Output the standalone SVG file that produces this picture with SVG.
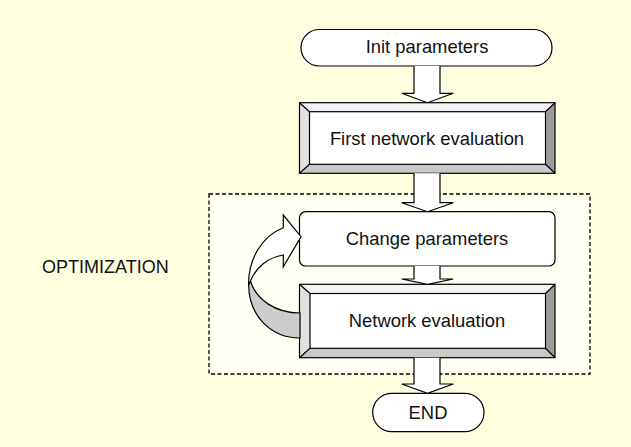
<svg xmlns="http://www.w3.org/2000/svg" width="631" height="447" viewBox="0 0 631 447">
  <style>
    .bg { fill: #ffffe0; }
    .frame { fill: #fffff4; stroke: #000; stroke-width: 1.3; stroke-dasharray: 4 2.5; }
    .pill, .plain { fill: #fff; stroke: #000; stroke-width: 1.2; }
    .face { fill: #fff; stroke: #000; stroke-width: 1.2; }
    .bev-t { fill: #f4f4f4; }
    .bev-l { fill: #e2e2e2; }
    .bev-r { fill: #9c9c9c; }
    .bev-b { fill: #c8c8c8; }
    .edge { fill: none; stroke: #000; stroke-width: 1.2; }
    .lbl { font-family: "Liberation Sans", Arial, sans-serif; font-size: 18.4px; fill: #111; text-anchor: middle; }
    .side { font-family: "Liberation Sans", Arial, sans-serif; font-size: 18px; fill: #111; }
    .blk { fill: #fff; stroke: #000; stroke-width: 1.2; stroke-linejoin: miter; }
    .band { fill: #cccccc; stroke: #000; stroke-width: 1.2; }
  </style>

  <rect class="bg" x="0" y="0" width="631" height="447"/>

  <!-- optimization loop region -->
  <g id="optimization">
    <rect class="frame" x="209" y="194" width="381" height="180"/>
    <text class="side" x="42" y="272.5">OPTIMIZATION</text>
  </g>

  <g id="init">
    <rect class="pill" x="301" y="29.5" width="251" height="36.5" rx="18.25"/>
    <text class="lbl" x="427" y="53.3">Init parameters</text>
  </g>

  <g id="first-eval">
    <polygon class="bev-t" points="299.5,102.7 555,102.7 545.5,111.7 309.5,111.7"/>
    <polygon class="bev-l" points="299.5,102.7 309.5,111.7 309.5,164.3 299.5,173.3"/>
    <polygon class="bev-r" points="555,102.7 555,173.3 545.5,164.3 545.5,111.7"/>
    <polygon class="bev-b" points="299.5,173.3 309.5,164.3 545.5,164.3 555,173.3"/>
    <rect class="face" x="309.5" y="111.7" width="236" height="52.6"/>
    <rect class="edge" x="299.5" y="102.7" width="255.5" height="70.6"/>
    <path class="edge" d="M299.5,102.7 L309.5,111.7 M555,102.7 L545.5,111.7 M299.5,173.3 L309.5,164.3 M555,173.3 L545.5,164.3"/>
    <text class="lbl" x="427" y="145">First network evaluation</text>
  </g>

  <g id="change">
    <rect class="plain" x="299.5" y="211.7" width="255.5" height="54.3" rx="6"/>
    <text class="lbl" x="427" y="245">Change parameters</text>
  </g>

  <g id="net-eval">
    <polygon class="bev-t" points="299.5,284.3 555,284.3 545.5,293.5 310,293.5"/>
    <polygon class="bev-l" points="299.5,284.3 310,293.5 310,348.3 299.5,357.7"/>
    <polygon class="bev-r" points="555,284.3 555,357.7 545.5,348.3 545.5,293.5"/>
    <polygon class="bev-b" points="299.5,357.7 310,348.3 545.5,348.3 555,357.7"/>
    <rect class="face" x="310" y="293.5" width="235.5" height="54.8"/>
    <rect class="edge" x="299.5" y="284.3" width="255.5" height="73.4"/>
    <path class="edge" d="M299.5,284.3 L310,293.5 M555,284.3 L545.5,293.5 M299.5,357.7 L310,348.3 M555,357.7 L545.5,348.3"/>
    <text class="lbl" x="427" y="326.7">Network evaluation</text>
  </g>

  <g id="end">
    <rect class="pill" x="372.7" y="393.3" width="111.3" height="38.4" rx="19.2"/>
    <text class="lbl" x="428" y="418.7">END</text>
  </g>

  <!-- block arrows between steps, and the feedback loop -->
  <g id="connectors">
    <path class="blk" d="M414,66 L414,93.3 L401.7,93.3 L427.5,102.7 L453.3,93.3 L440,93.3 L440,66"/>
    <path class="blk" d="M414,173.3 L414,202.7 L401.7,202.7 L427.5,211.7 L453.3,202.7 L440,202.7 L440,173.3"/>
    <path class="blk" d="M414,266 L414,279 L401.7,279 L427.5,284.3 L453.3,279 L440,279 L440,266"/>
    <path class="blk" d="M414,357.7 L414,384 L401.7,384 L427.5,393.3 L453.3,384 L440,384 L440,357.7"/>

    <g id="loop">
      <path class="band" d="M250.5,281 C256,300 276,313 300,313 L300,338 C271,338 249,316 248.6,285 Z"/>
      <path class="blk" d="M248.6,285 C248.2,259 262,236 283.3,227.7 L283.3,215 L301,236.7 L283.3,266.7 L283.3,255 C268,257.5 256,267 250.5,281 Z"/>
    </g>
  </g>
</svg>
